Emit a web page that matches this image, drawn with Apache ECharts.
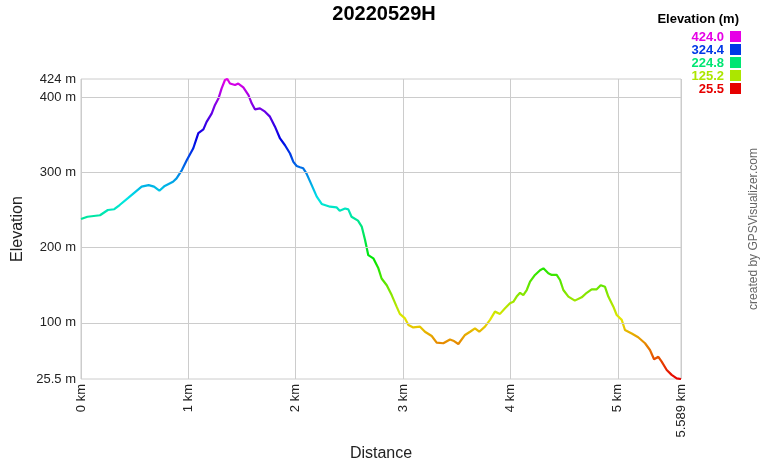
<!DOCTYPE html>
<html><head><meta charset="utf-8">
<script src="https://cdn.jsdelivr.net/npm/echarts@6/dist/echarts.min.js"></script>
<style>html,body{margin:0;padding:0;background:#fff}#c{width:760px;height:460px}</style>
</head><body><div id="c"></div>
<script>
const distanceKm = [0,0.06,0.177,0.25,0.31,0.36,0.44,0.49,0.565,0.63,0.68,0.73,0.78,0.857,0.89,0.94,0.985,1.046,1.093,1.14,1.17,1.217,1.248,1.28,1.31,1.341,1.363,1.388,1.435,1.465,1.512,1.56,1.59,1.62,1.667,1.714,1.76,1.807,1.854,1.9,1.947,1.978,2.009,2.04,2.07,2.10,2.149,2.196,2.242,2.32,2.38,2.41,2.46,2.49,2.52,2.58,2.615,2.646,2.676,2.723,2.77,2.80,2.848,2.894,2.94,2.97,3.018,3.05,3.095,3.158,3.204,3.267,3.313,3.375,3.437,3.468,3.515,3.577,3.624,3.67,3.71,3.763,3.81,3.856,3.903,3.95,3.996,4.027,4.058,4.09,4.12,4.152,4.183,4.229,4.276,4.307,4.353,4.385,4.431,4.462,4.493,4.54,4.60,4.664,4.711,4.757,4.804,4.841,4.881,4.912,4.959,4.99,5.037,5.067,5.13,5.19,5.254,5.30,5.338,5.378,5.409,5.456,5.502,5.549,5.589];
const elevationM = [238,241,243,250,251,256.6,266,272,281,283,281,275.6,282,287.6,292,303,316,332,352,357,367,378,389.5,398,411.6,422.7,424,418,416,418,413,402.7,391.7,383.7,385,380.6,374,360.7,345,336,325,314,308.4,306.7,305.4,298.7,283,267.7,258,254.4,253.6,249,252,250.9,241,235.8,228,210,190,185.8,172.5,159,150,137,121.6,112,106,97.2,94,95,88.3,82.6,73.8,73,78,76.4,72,84,88.3,92.8,88.3,95,104,115,112,119.4,126,128,135,140,137,143.7,154.8,163.7,170,172.5,165.9,163.7,163.7,157,143.7,135,129.6,134,140,144.6,144.6,150,148,135,121.6,110.5,104,90.6,86,81,73,64,51.7,55,48.5,37.5,31,26.4,25.5];
const yTickValues = [25.5,100,200,300,400,424];
const yGridValues = [100,200,300,400];
const xTickValues = [0,1,2,3,4,5,5.589];
const legendValues = ['424.0','324.4','224.8','125.2','25.5'];
const legendColors = ['#e600e6','#0039e6','#00e673','#ace600','#e60000'];
const rampColors = ['#e60000','#e67300','#e6e600','#73e600','#00e600','#00e673','#00e6e6','#0073e6','#0000e6','#7300e6','#e600e6'];
const yMin = 25.5, yMax = 424, xMax = 5.589;

const FONT = 'Liberation Sans, Arial, sans-serif';
const chart = echarts.init(document.getElementById('c'), null, {renderer:'canvas'});
const pts = distanceKm.map((d,i)=>[d, elevationM[i]]);

const graphics = [
  {type:'text', x:384, y:14, style:{text:'20220529H', font:'bold 20px '+FONT, fill:'#000', textAlign:'center', textVerticalAlign:'middle'}},
  {type:'text', x:739, y:13, style:{text:'Elevation (m)', font:'bold 13px '+FONT, fill:'#000', textAlign:'right', textVerticalAlign:'top'}}
];
legendValues.forEach((v,i)=>{
  graphics.push({type:'text', x:724, y:37+i*13, style:{text:v, font:'bold 13px '+FONT, fill:legendColors[i], textAlign:'right', textVerticalAlign:'middle'}});
  graphics.push({type:'rect', x:730, y:31+i*13, shape:{width:11,height:11}, style:{fill:legendColors[i]}});
});
graphics.push({type:'text', x:754, y:229, rotation:Math.PI/2, style:{text:'created by GPSVisualizer.com', font:'12px '+FONT, fill:'#666', textAlign:'center', textVerticalAlign:'middle'}});

chart.setOption({
  animation:false,
  backgroundColor:'#fff',
  grid:{left:81, right:79, top:79, bottom:81, show:true, borderColor:'#ccc', borderWidth:1, containLabel:false, outerBoundsMode:'none'},
  xAxis:{type:'value', min:0, max:xMax, interval:1,
    name:'Distance', nameLocation:'middle', nameGap:61, nameTextStyle:{fontFamily:FONT, fontSize:16, color:'#222'},
    axisLine:{show:false}, axisTick:{show:false},
    splitLine:{show:true, lineStyle:{color:'#ccc', width:1}},
    axisLabel:{customValues:xTickValues, rotate:90, margin:5, fontFamily:FONT, fontSize:13, color:'#222',
      formatter:v=>v+' km'}},
  yAxis:{type:'value', min:yMin, max:yMax,
    name:'Elevation', nameLocation:'middle', nameGap:53, nameRotate:90, nameTextStyle:{fontFamily:FONT, fontSize:16, color:'#222'},
    axisLine:{show:false}, axisTick:{show:false}, splitLine:{show:false},
    axisLabel:{customValues:yTickValues, margin:5, fontFamily:FONT, fontSize:13, color:'#222',
      formatter:v=>v+' m'}},
  visualMap:{type:'continuous', show:false, seriesIndex:1, dimension:1, min:yMin, max:yMax, inRange:{color:rampColors}},
  series:[
    {type:'line', data:[], z:1, silent:true,
      markLine:{silent:true, symbol:'none', label:{show:false}, animation:false,
        lineStyle:{color:'#ccc', width:1, type:'solid'},
        data:yGridValues.map(v=>({yAxis:v}))}},
    {type:'line', data:pts, z:2, showSymbol:false, symbol:'none', lineStyle:{width:2.2}}
  ],
  graphic:graphics
});
</script></body></html>
